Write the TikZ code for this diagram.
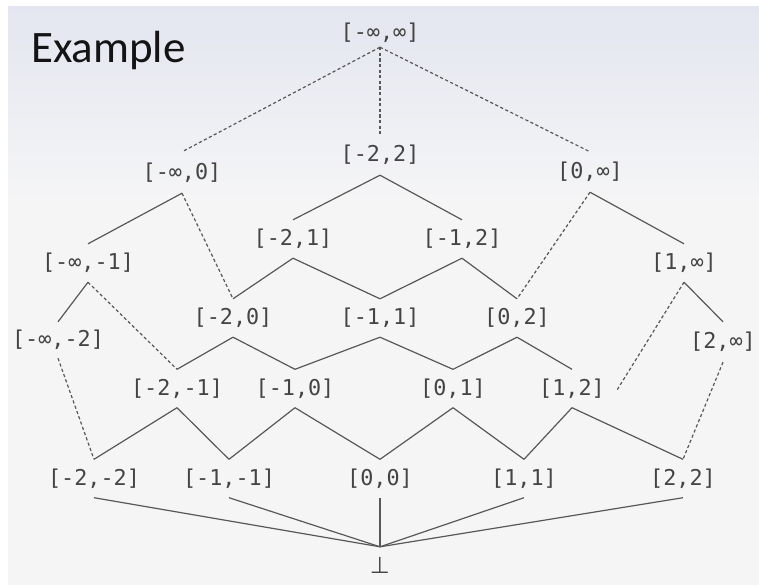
\documentclass[tikz,border=0pt]{standalone}
\usepackage{fontspec}
\newfontfamily\monof{DejaVu Sans Mono}
\newfontfamily\symf{DejaVu Sans}
\newfontfamily\calib{Carlito}
\definecolor{txt}{HTML}{444444}
\definecolor{edge}{HTML}{585858}
\definecolor{bgtop}{HTML}{E3E6F0}
\definecolor{bgbot}{HTML}{F5F5F6}
\tikzset{
  lbl/.style={font=\monof\fontsize{21.8}{26}\selectfont, text=txt, inner sep=0pt, minimum height=38pt},
  solidedge/.style={draw=edge, line width=1.2pt},
  dashedge/.style={draw=edge, line width=1.2pt, dash pattern=on 3.2pt off 2.4pt},
}
\begin{document}
\begin{tikzpicture}[x=1pt,y=-1pt]
\useasboundingbox (0,0) rectangle (759,587);
\fill[white] (0,0) rectangle (759,587);
\shade[top color=bgtop, bottom color=bgbot] (8,6) rectangle (759,200);
\fill[bgbot] (8,199.5) rectangle (759,585);

\node[font=\calib\fontsize{45}{54}\selectfont, text=black!92, anchor=base west, inner sep=0pt] (title) at (31,62) {Example};

\node[lbl, minimum height=28pt] (top) at (380,33) {[-∞,∞]};
\node[lbl, minimum height=41pt] (mi0) at (182,172.5) {[-∞,0]};
\node[lbl, minimum height=40pt] (m22) at (380,155) {[-2,2]};
\node[lbl, minimum height=40pt] (p0i) at (590,172) {[0,∞]};
\node[lbl] (m21) at (293,239) {[-2,1]};
\node[lbl] (m12) at (462,239) {[-1,2]};
\node[lbl] (mim1) at (88,263) {[-∞,-1]};
\node[lbl] (p1i) at (684,263) {[1,∞]};
\node[lbl] (m20) at (233,318) {[-2,0]};
\node[lbl] (m11) at (380,318) {[-1,1]};
\node[lbl] (p02) at (517,318) {[0,2]};
\node[lbl, minimum height=36pt] (mim2) at (58,340) {[-∞,-2]};
\node[lbl, minimum height=40pt] (p2i) at (723,342) {[2,∞]};
\node[lbl] (m2m1) at (177,388.5) {[-2,-1]};
\node[lbl] (m10) at (295,388.5) {[-1,0]};
\node[lbl] (p01) at (453,388.5) {[0,1]};
\node[lbl] (p12) at (572,388.5) {[1,2]};
\node[lbl] (m2m2) at (94,478.5) {[-2,-2]};
\node[lbl] (m1m1) at (229,478.5) {[-1,-1]};
\node[lbl] (p00) at (380,478.5) {[0,0]};
\node[lbl] (p11) at (524,478.5) {[1,1]};
\node[lbl] (p22) at (683,478.5) {[2,2]};
\node[lbl, font=\symf\fontsize{23}{26}\selectfont, minimum height=36pt] (bot) at (380,565) {⊥};

% top
\draw[dashedge] (top.south) -- (mi0.north);
\draw[dashedge] (top.south) -- (m22.north);
\draw[dashedge] (top.south) -- (p0i.north);
% second level
\draw[solidedge] (mi0.south) -- (mim1.north);
\draw[dashedge] (mi0.south) -- (m20.north);
\draw[solidedge] (m22.south) -- (m21.north);
\draw[solidedge] (m22.south) -- (m12.north);
\draw[dashedge] (p0i.south) -- (p02.north);
\draw[solidedge] (p0i.south) -- (p1i.north);
% third
\draw[solidedge] (m21.south) -- (m20.north);
\draw[solidedge] (m21.south) -- (m11.north);
\draw[solidedge] (m12.south) -- (m11.north);
\draw[solidedge] (m12.south) -- (p02.north);
\draw[solidedge] (mim1.south) -- (mim2.north);
\draw[dashedge] (mim1.south) -- (m2m1.north);
\draw[dashedge] (p1i.south) -- ([xshift=12pt,yshift=-1.5pt]p12.east);
\draw[solidedge] (p1i.south) -- (p2i.north);
% fourth
\draw[solidedge] (m20.south) -- (m2m1.north);
\draw[solidedge] (m20.south) -- (m10.north);
\draw[solidedge] (m11.south) -- (m10.north);
\draw[solidedge] (m11.south) -- (p01.north);
\draw[solidedge] (p02.south) -- (p01.north);
\draw[solidedge] (p02.south) -- (p12.north);
\draw[dashedge] (mim2.south) -- (m2m2.north);
\draw[dashedge] (p2i.south) -- (p22.north);
% fifth
\draw[solidedge] (m2m1.south) -- (m2m2.north);
\draw[solidedge] (m2m1.south) -- (m1m1.north);
\draw[solidedge] (m10.south) -- (m1m1.north);
\draw[solidedge] (m10.south) -- (p00.north);
\draw[solidedge] (p01.south) -- (p00.north);
\draw[solidedge] (p01.south) -- (p11.north);
\draw[solidedge] (p12.south) -- (p11.north);
\draw[solidedge] (p12.south) -- (p22.north);
% bottom
\draw[solidedge] (m2m2.south) -- (bot.north);
\draw[solidedge] (m1m1.south) -- (bot.north);
\draw[solidedge] (p00.south) -- (bot.north);
\draw[solidedge] (p11.south) -- (bot.north);
\draw[solidedge] (p22.south) -- (bot.north);
\end{tikzpicture}
\end{document}
